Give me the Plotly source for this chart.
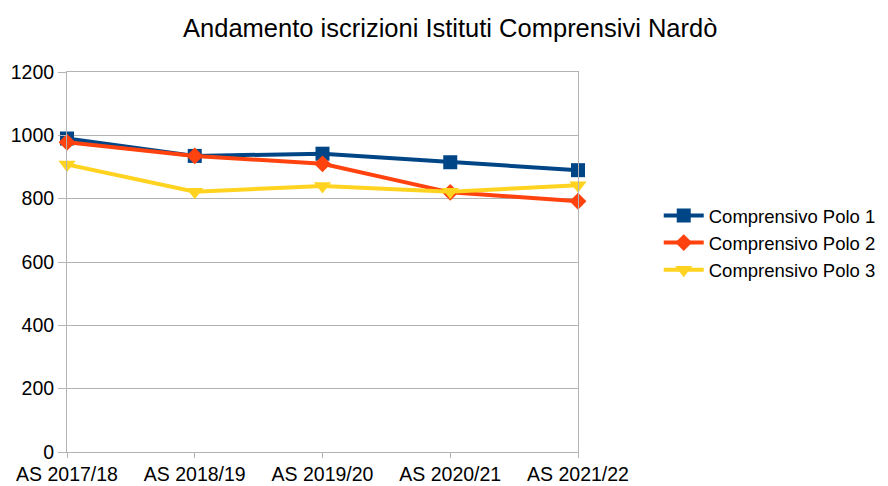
import plotly.graph_objects as go

categories = ["AS 2017/18", "AS 2018/19", "AS 2019/20", "AS 2020/21", "AS 2021/22"]
polo1 = [990, 935, 942, 915, 890]
polo2 = [978, 935, 910, 820, 792]
polo3 = [908, 822, 840, 822, 842]
names = ["Comprensivo Polo 1", "Comprensivo Polo 2", "Comprensivo Polo 3"]
colors = ["#004586", "#ff420e", "#ffd320"]
symbols = ["square", "diamond", "triangle-down"]
msizes = [14, 13, 15]

fig = go.Figure()
for name, vals, col, sym, ms in zip(names, [polo1, polo2, polo3], colors, symbols, msizes):
    fig.add_trace(go.Scatter(
        x=categories, y=vals, name=name, mode="lines+markers",
        line=dict(color=col, width=4), cliponaxis=False,
        marker=dict(symbol=sym, size=ms, color=col),
    ))

fig.update_layout(
    width=888, height=486,
    margin=dict(l=59, r=318, t=64, b=42, autoexpand=False),
    paper_bgcolor="white", plot_bgcolor="white",
    font=dict(family="Liberation Sans, Arial, sans-serif", color="#000000"),
    title=dict(text="Andamento iscrizioni Istituti Comprensivi Nardò",
               x=0.498, xanchor="center", y=0.959, yanchor="middle",
               font=dict(size=25.5, color="#000000")),
    legend=dict(x=1.158, xanchor="left", y=0.55, yanchor="middle",
                font=dict(size=18.5, color="#000000"), tracegroupgap=0,
                itemwidth=40, bgcolor="rgba(0,0,0,0)"),
    showlegend=True,
)
fig.update_xaxes(
    type="category", range=[0, 4], showgrid=False,
    showline=True, linecolor="#b3b3b3", linewidth=1, mirror=True,
    ticks="outside", ticklen=5, tickcolor="#b3b3b3",
    tickfont=dict(size=19.5, color="#000000"), tickson="labels",
)
fig.update_yaxes(
    range=[0, 1200], dtick=200, showgrid=True, gridcolor="#b3b3b3", gridwidth=1,
    showline=True, linecolor="#b3b3b3", linewidth=1, mirror=True,
    ticks="outside", ticklen=8, tickcolor="#b3b3b3",
    tickfont=dict(size=19.5, color="#000000"), zeroline=False,
)

fig.write_html("out.html")
